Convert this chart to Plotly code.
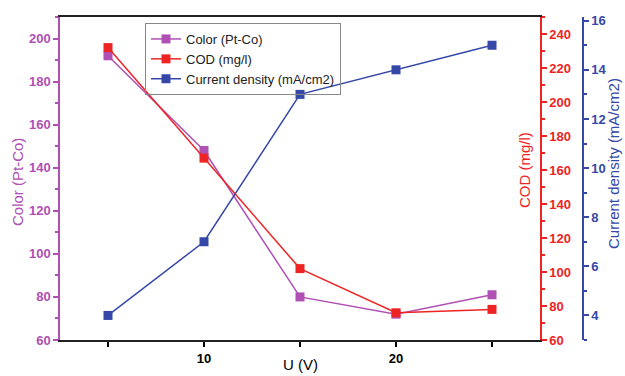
import plotly.graph_objects as go

# Applied voltage (V)
voltage = [5, 10, 15, 20, 25]
# Colour (Pt-Co units)
color_ptco = [192, 148, 80, 72, 81]
# COD (mg/l)
cod_mgl = [232, 167, 102, 76, 78]
# Current density (mA/cm2)
current_density = [4, 7, 13, 14, 15]

x_tick_vals = [5, 10, 15, 20, 25]
x_tick_text = ["", "10", "", "20", ""]

PURPLE = "#B04FB4"
RED = "#EE2424"
BLUE = "#3548A8"
FONT = "Liberation Sans, Arial, sans-serif"

W, H = 625, 376
ML, MR, MT, MB = 60, 30, 17, 36
plot_w = W - ML - MR
plot_h = H - MT - MB
x_dom_end = 480 / plot_w
blue_pos = (583 - ML) / plot_w


def px_x(p):
    """Horizontal pixel -> paper coordinate."""
    return (p - ML) / plot_w


def px_y(p):
    """Vertical pixel (from top) -> paper coordinate."""
    return 1 - (p - MT) / plot_h


fig = go.Figure()
fig.add_trace(go.Scatter(
    x=voltage, y=color_ptco, name="Color (Pt-Co)", mode="lines+markers",
    line=dict(color=PURPLE, width=1.5),
    marker=dict(symbol="square", size=9, color=PURPLE), yaxis="y"))
fig.add_trace(go.Scatter(
    x=voltage, y=cod_mgl, name="COD (mg/l)", mode="lines+markers",
    line=dict(color=RED, width=1.5),
    marker=dict(symbol="square", size=9, color=RED), yaxis="y2"))
fig.add_trace(go.Scatter(
    x=voltage, y=current_density, name="Current density (mA/cm2)", mode="lines+markers",
    line=dict(color=BLUE, width=1.5),
    marker=dict(symbol="square", size=9, color=BLUE), yaxis="y3"))

fig.update_layout(
    width=W, height=H,
    margin=dict(l=ML, r=MR, t=MT, b=MB),
    paper_bgcolor="white", plot_bgcolor="white",
    font=dict(family=FONT),
    showlegend=True,
    legend=dict(
        x=px_x(145), y=px_y(23), xanchor="left", yanchor="top",
        bgcolor="rgba(255,255,255,0)", bordercolor="#888888", borderwidth=1,
        font=dict(family=FONT, size=13, color="#222222"),
        tracegroupgap=0, itemwidth=30,
    ),
    xaxis=dict(
        domain=[0, x_dom_end], range=[2.5, 27.5], automargin=False,
        tickvals=x_tick_vals, ticktext=x_tick_text,
        ticks="outside", ticklen=5, tickwidth=1.5, tickcolor="black",
        showline=True, linecolor="#222222", linewidth=2, mirror=True,
        showgrid=False, zeroline=False,
        tickfont=dict(family=FONT, size=13, color="black", weight="bold"),
    ),
    yaxis=dict(
        range=[60, 210], dtick=20, tick0=60, automargin=False,
        ticks="outside", ticklen=5, tickwidth=1.5, tickcolor=PURPLE,
        minor=dict(dtick=10, ticks="outside", ticklen=3, tickcolor=PURPLE, showgrid=False),
        showline=True, linecolor=PURPLE, linewidth=1.5,
        showgrid=False, zeroline=False,
        tickfont=dict(family=FONT, size=13, color=PURPLE, weight="bold"),
    ),
    yaxis2=dict(
        overlaying="y", side="right", anchor="x", automargin=False,
        range=[60, 250], dtick=20, tick0=60,
        ticks="outside", ticklen=5, tickwidth=1.5, tickcolor=RED,
        minor=dict(dtick=10, ticks="outside", ticklen=3, tickcolor=RED, showgrid=False),
        showline=True, linecolor=RED, linewidth=1.5,
        showgrid=False, zeroline=False,
        tickfont=dict(family=FONT, size=13, color=RED, weight="bold"),
    ),
    yaxis3=dict(
        overlaying="y", side="right", anchor="free", position=blue_pos, automargin=False,
        range=[3, 16.15], dtick=2, tick0=4,
        ticks="outside", ticklen=5, tickwidth=1.5, tickcolor=BLUE,
        minor=dict(dtick=1, ticks="outside", ticklen=3, tickcolor=BLUE, showgrid=False),
        showline=True, linecolor=BLUE, linewidth=1.5,
        showgrid=False, zeroline=False,
        tickfont=dict(family=FONT, size=13, color=BLUE, weight="bold"),
    ),
)

# Axis titles
titles = [
    ("Color (Pt-Co)", 17, 182, PURPLE),
    ("COD (mg/l)", 525, 170, RED),
    ("Current density (mA/cm2)", 614, 164, BLUE),
]
for text, xp, yp, col in titles:
    fig.add_annotation(
        text=text, xref="paper", yref="paper", x=px_x(xp), y=px_y(yp),
        xanchor="center", yanchor="middle", textangle=-90, showarrow=False,
        font=dict(family=FONT, size=15, color=col))
fig.add_annotation(
    text="U (V)", xref="paper", yref="paper", x=px_x(300), y=px_y(375),
    xanchor="center", yanchor="bottom", showarrow=False,
    font=dict(family=FONT, size=15, color="black"))

fig.write_html("out.html")
